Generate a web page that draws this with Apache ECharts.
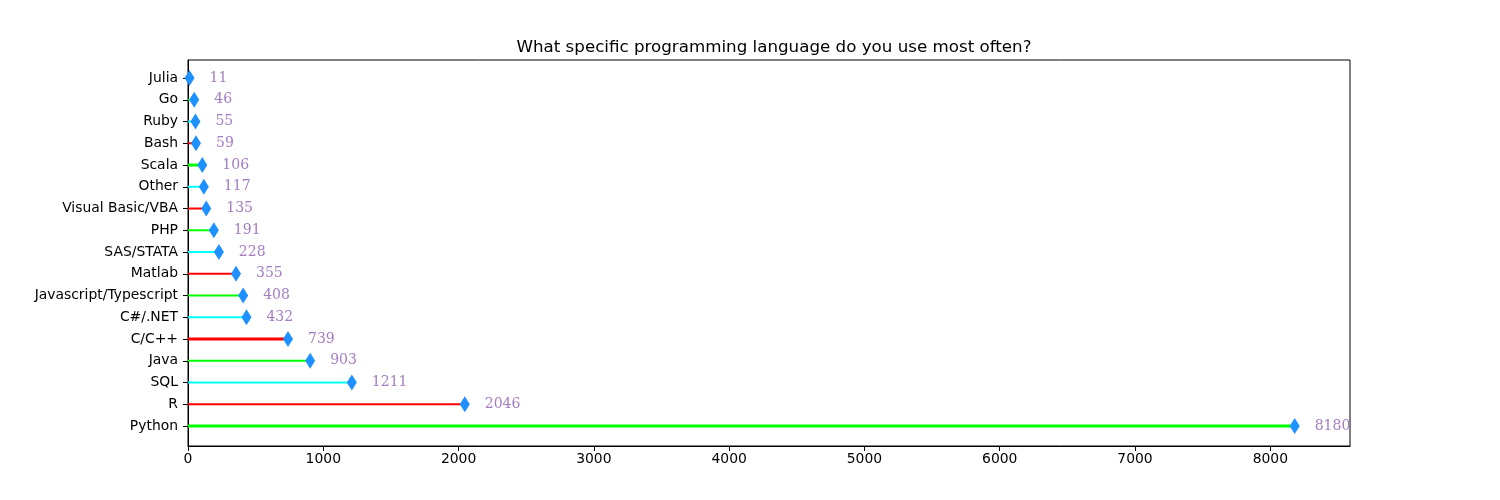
<!DOCTYPE html>
<html>
<head>
<meta charset="utf-8">
<script src="https://cdn.jsdelivr.net/npm/echarts@6/dist/echarts.min.js"></script>
<style>html,body{margin:0;padding:0;background:#fff}#c{width:1500px;height:500px}</style>
</head>
<body>
<div id="c"></div>
<script>
const categories = ["Python","R","SQL","Java","C/C++","C#/.NET","Javascript/Typescript","Matlab","SAS/STATA","PHP","Visual Basic/VBA","Other","Scala","Bash","Ruby","Go","Julia"];
const values = [8180,2046,1211,903,739,432,408,355,228,191,135,117,106,59,55,46,11];
const lineColors = ["#00ff00","#ff0000","#00ffff"];
const lineWidths = [3,2,2,2,3,2,2,2,2,2,2,2,3,2,2,2,2];

const chart = echarts.init(document.getElementById('c'), null, {renderer:'canvas'});
const font = 'DejaVu Sans';
const pts = values.map((v,i)=>[v,i]);
const idx = categories.map((c,i)=>i);
chart.setOption({
  animation:false,
  title:{text:'What specific programming language do you use most often?',left:769,top:34,textAlign:'center',
    textStyle:{fontFamily:font,fontSize:16.7,fontWeight:'normal',color:'#000'}},
  grid:{left:188,top:60,width:1162,height:386,show:true,borderColor:'#000',borderWidth:1,containLabel:false},
  xAxis:{type:'value',min:0,max:8589,interval:1000,
    axisLine:{show:true,onZero:false,lineStyle:{color:'#000',width:1}},
    axisTick:{show:true,length:5,lineStyle:{color:'#000'}},
    splitLine:{show:false},
    axisLabel:{showMaxLabel:false,color:'#000',fontFamily:font,fontSize:13.9,margin:6,formatter:(v)=>String(v)}},
  yAxis:{type:'value',min:-0.92,max:16.83,
    axisLine:{show:true,onZero:false,lineStyle:{color:'#000',width:1}},
    axisTick:{show:true,length:5,lineStyle:{color:'#000'},customValues:idx},
    splitLine:{show:false},
    axisLabel:{color:'#000',fontFamily:font,fontSize:13.9,margin:10,customValues:idx,
      formatter:(v)=>categories[Math.round(v)]}},
  series:[
    {type:'custom',data:pts,encode:{x:0,y:1},z:2,clip:false,
      renderItem:(params,api)=>{
        const i=api.value(1), v=api.value(0);
        const a=api.coord([0,i]), b=api.coord([v,i]);
        return {type:'line',shape:{x1:a[0],y1:a[1],x2:b[0],y2:b[1]},
          style:{stroke:lineColors[i%3],lineWidth:lineWidths[i]}};
      }},
    {type:'scatter',data:pts,symbol:'diamond',symbolSize:[10,16],z:3,clip:false,
      itemStyle:{color:'#1e90ff',opacity:1},
      label:{show:true,position:'right',distance:15,formatter:(p)=>String(p.value[0]),
        color:'#a47dc2',fontFamily:'DejaVu Serif',fontSize:14,textBorderWidth:0,textShadowBlur:0},
      emphasis:{disabled:true}}
  ]
});
</script>
</body>
</html>
